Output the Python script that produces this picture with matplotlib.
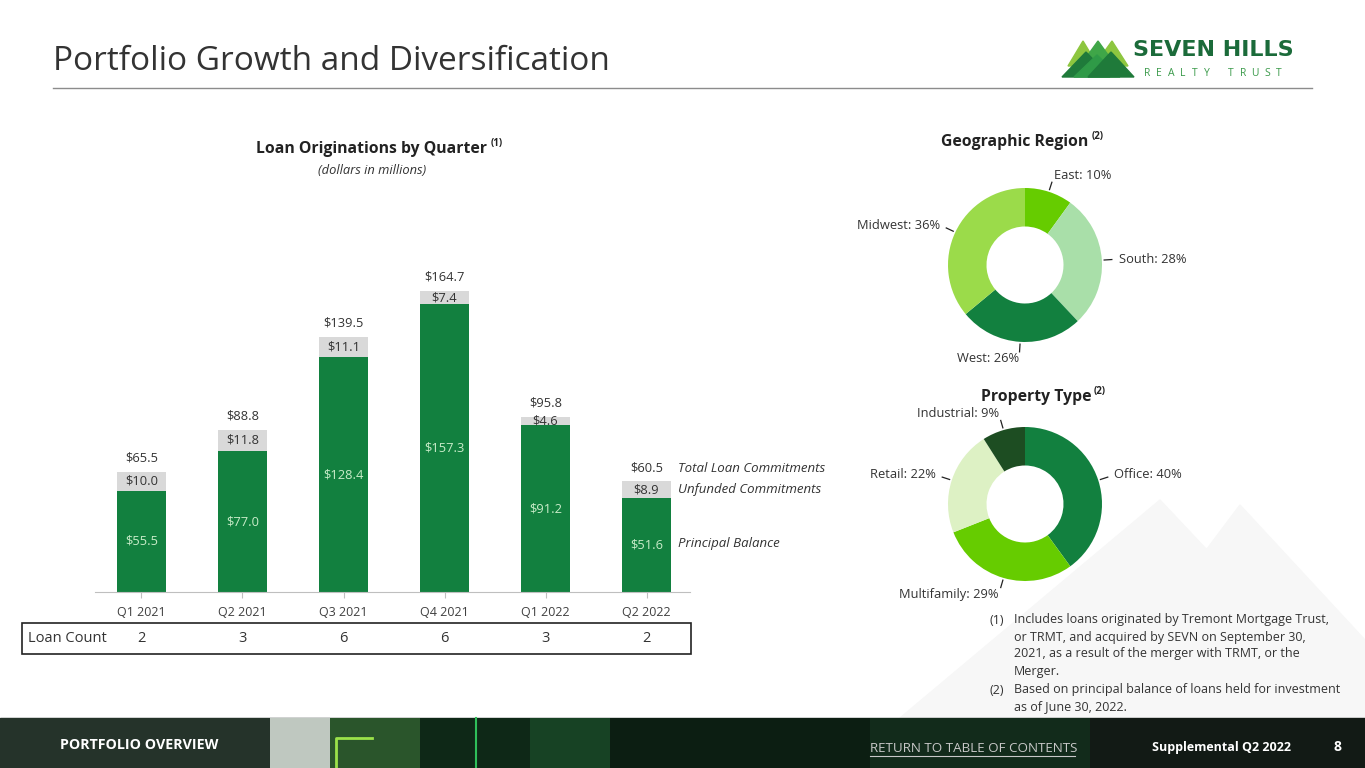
import numpy as np
import matplotlib.pyplot as plt
from matplotlib.patches import Polygon, Rectangle
from matplotlib.transforms import blended_transform_factory

plt.rcParams['font.family'] = ['Open Sans', 'DejaVu Sans']

# data
quarters = ['Q1 2021', 'Q2 2021', 'Q3 2021', 'Q4 2021', 'Q1 2022', 'Q2 2022']
principal = [55.5, 77.0, 128.4, 157.3, 91.2, 51.6]
unfunded = [10.0, 11.8, 11.1, 7.4, 4.6, 8.9]
totals = [65.5, 88.8, 139.5, 164.7, 95.8, 60.5]
loan_count = [2, 3, 6, 6, 3, 2]

geo_labels = ['East', 'South', 'West', 'Midwest']
geo_pct = [10, 28, 26, 36]
prop_labels = ['Office', 'Multifamily', 'Retail', 'Industrial']
prop_pct = [40, 29, 22, 9]

GREEN = '#12803f'
GREY = '#d9d9d9'
TXT = '#333333'

W, H = 1365, 768
fig = plt.figure(figsize=(W / 100, H / 100), dpi=100)


def box(x0, y0, x1, y1):
    # pixel box (top-left origin) -> figure fraction
    return [x0 / W, 1 - y1 / H, (x1 - x0) / W, (y1 - y0) / H]


# full-page layer in pixel coords
bg = fig.add_axes([0, 0, 1, 1])
bg.set_xlim(0, W)
bg.set_ylim(H, 0)
bg.axis('off')

# faint mountains in the background
for pts in [[(900, 718), (1160, 500), (1365, 718)],
            [(1080, 718), (1240, 505), (1365, 640), (1365, 718)],
            [(980, 718), (1070, 620), (1160, 718)]]:
    bg.add_patch(Polygon(pts, closed=True, color='#f7f7f7', zorder=0))

# header
bg.text(53, 62, 'Portfolio Growth and Diversification', fontsize=24, color=TXT, va='center')
bg.plot([53, 1312], [88, 88], color='#8c8c8c', lw=1)

# logo
logo = [('#8dc63f', [(1068, 66), (1083, 41), (1098, 66)]),
        ('#8dc63f', [(1094, 66), (1112, 41), (1128, 66)]),
        ('#3fa648', [(1080, 66), (1098, 41), (1116, 66)]),
        ('#1f7a3a', [(1062, 77), (1086, 52), (1110, 77)]),
        ('#2f9a47', [(1074, 77), (1097, 55), (1120, 77)]),
        ('#1f7a3a', [(1088, 77), (1111, 52), (1134, 77)])]
for c, pts in logo:
    bg.add_patch(Polygon(pts, closed=True, color=c, zorder=2))
bg.text(1133, 50, 'SEVEN HILLS', fontsize=16, fontweight='bold', color='#1b6b3a',
        va='center', family='DejaVu Sans')
for k, ch in enumerate('REALTY TRUST'):
    bg.text(1147 + 12 * k, 74, ch, fontsize=7.5, color='#3a9a4a', va='center', ha='center')


def title_with_note(xc, yc, text, note):
    t = bg.text(xc, yc, text, fontsize=11.3, fontweight='bold', color='#222222',
                ha='center', va='center')
    bg.annotate(note, xy=(1, 1), xycoords=t, xytext=(2, 2), textcoords='offset points',
                fontsize=7, fontweight='bold', color='#222222', va='top')


# bar chart
ax = fig.add_axes(box(95, 263, 690, 592))
x = np.arange(len(quarters))
ax.bar(x, principal, width=0.48, color=GREEN, zorder=2)
ax.bar(x, unfunded, width=0.48, bottom=principal, color=GREY, zorder=2)
for i in range(len(quarters)):
    ax.text(x[i], principal[i] / 2, f'${principal[i]:.1f}', ha='center', va='center',
            fontsize=9.3, color='#c9ecc9')
    ax.text(x[i], principal[i] + unfunded[i] / 2, f'${unfunded[i]:.1f}', ha='center', va='center',
            fontsize=9.3, color=TXT)
    ax.text(x[i], totals[i] + 4, f'${totals[i]:.1f}', ha='center', va='bottom',
            fontsize=9.3, color=TXT)
ax.set_xlim(-0.46, 5.43)
ax.set_ylim(0, 180)
ax.set_xticks(x)
ax.set_xticklabels(quarters, fontsize=9, color='#404040')
ax.tick_params(axis='x', length=4, color='#bfbfbf', pad=6)
ax.set_yticks([])
for s in ['top', 'left', 'right']:
    ax.spines[s].set_visible(False)
ax.spines['bottom'].set_color('#bfbfbf')
ax.patch.set_alpha(0)

title_with_note(372, 149, 'Loan Originations by Quarter', '(1)')
bg.text(372, 171, '(dollars in millions)', fontsize=9.3, style='italic', color=TXT,
        ha='center', va='center')

for txt, yy in [('Total Loan Commitments', 469), ('Unfunded Commitments', 490),
                ('Principal Balance', 543)]:
    bg.text(678, yy, txt, fontsize=9.5, style='italic', color=TXT, va='center')

# loan count table
bg.add_patch(Rectangle((22, 623), 669, 31, fill=False, ec='#222222', lw=1.2))
bg.text(28, 638.5, 'Loan Count', fontsize=10.5, color=TXT, va='center')
tr = blended_transform_factory(ax.transData, bg.transData)
for i, n in enumerate(loan_count):
    ax.text(x[i], 638.5, str(n), transform=tr, fontsize=10.5, color=TXT,
            ha='center', va='center', clip_on=False)


def donut(cx, cy, vals, labels, colors):
    r = 77
    a = fig.add_axes(box(cx - 1.25 * r, cy - 1.25 * r, cx + 1.25 * r, cy + 1.25 * r))
    wedges, _ = a.pie(vals, colors=colors, startangle=90, counterclock=False,
                      wedgeprops=dict(width=0.5, linewidth=0))
    a.set_xlim(-1.25, 1.25)
    a.set_ylim(-1.25, 1.25)
    a.set_aspect('equal')
    for w, lab, v in zip(wedges, labels, vals):
        ang = np.deg2rad((w.theta1 + w.theta2) / 2)
        c, s = np.cos(ang), np.sin(ang)
        a.plot([1.03 * c, 1.13 * c], [1.03 * s, 1.13 * s], color='#222222', lw=0.9, clip_on=False)
        ha = 'left' if c > 0 else 'right'
        a.text(1.22 * c, 1.22 * s, f'{lab}: {v}%', fontsize=9.3, color=TXT, ha=ha,
               va='center', clip_on=False)
    return a


title_with_note(1015, 142, 'Geographic Region', '(2)')
donut(1025, 265, geo_pct, geo_labels, ['#66cc00', '#a9dfa9', '#12803f', '#9bdb4a'])

title_with_note(1036, 397, 'Property Type', '(2)')
donut(1025, 504, prop_pct, prop_labels, ['#12803f', '#66cc00', '#ddf1c4', '#1d4d22'])

# footnotes
fn1 = ['Includes loans originated by Tremont Mortgage Trust,',
       'or TRMT, and acquired by SEVN on September 30,',
       '2021, as a result of the merger with TRMT, or the',
       'Merger.']
fn2 = ['Based on principal balance of loans held for investment',
       'as of June 30, 2022.']
bg.text(989, 620, '(1)', fontsize=9, color=TXT, va='center')
for k, line in enumerate(fn1):
    bg.text(1014, 620 + 17 * k, line, fontsize=9, color=TXT, va='center')
bg.text(989, 690, '(2)', fontsize=9, color=TXT, va='center')
for k, line in enumerate(fn2):
    bg.text(1014, 690 + 17 * k, line, fontsize=9, color=TXT, va='center')

# footer band
bg.add_patch(Rectangle((0, 718), W, 50, color='#121a15', zorder=3))
for x0, wd, c, al in [(0, 270, '#2a3a30', 0.8), (270, 60, '#dfe8df', 0.85),
                      (330, 90, '#3b7d3b', 0.6), (420, 110, '#0e2a18', 0.9),
                      (530, 80, '#1d6b34', 0.5), (610, 260, '#0c1f12', 0.9),
                      (870, 220, '#13301d', 0.8)]:
    bg.add_patch(Rectangle((x0, 718), wd, 50, color=c, alpha=al, zorder=3, lw=0))
bg.plot([336, 336, 372], [768, 738, 738], color='#9be24a', lw=2, zorder=4)
bg.plot([476, 476], [718, 768], color='#2fbf5a', lw=1.5, zorder=4)
bg.text(60, 745, 'PORTFOLIO OVERVIEW', fontsize=10.3, fontweight='bold', color='white',
        va='center', zorder=5)
bg.text(870, 748, 'RETURN TO TABLE OF CONTENTS', fontsize=9.6, color='#c8c8c8',
        va='center', zorder=5)
bg.plot([870, 1075], [756, 756], color='#c8c8c8', lw=0.8, zorder=5)
bg.text(1152, 747, 'Supplemental Q2 2022', fontsize=9, fontweight='bold', color='white',
        va='center', zorder=5)
bg.text(1334, 747, '8', fontsize=10, fontweight='bold', color='white', va='center', zorder=5)

fig.savefig('out.png', dpi=100)
